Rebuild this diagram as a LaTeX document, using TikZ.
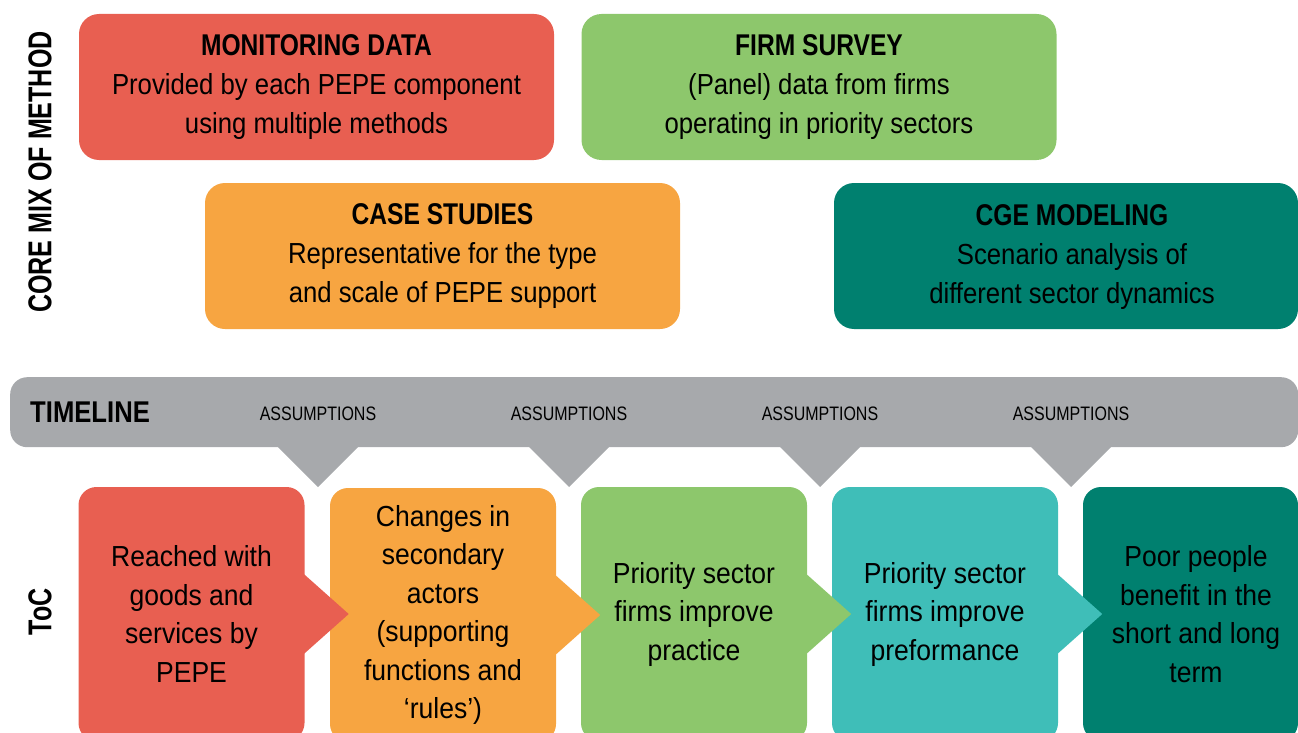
\documentclass[tikz,border=0pt]{standalone}
\usepackage{fontspec}
\setmainfont{Liberation Sans}[FakeStretch=0.82]
\newfontfamily\topfont{Liberation Sans}[FakeStretch=0.887]
\newfontfamily\tocfont{Liberation Sans}[FakeStretch=0.915]
\newfontfamily\sidefont{Liberation Sans}[FakeStretch=0.76]
\newfontfamily\tlfont{Liberation Sans}[FakeStretch=0.855]
\usetikzlibrary{calc}
\definecolor{cRed}{HTML}{E85F51}
\definecolor{cGreen}{HTML}{8DC76C}
\definecolor{cOrange}{HTML}{F7A541}
\definecolor{cDark}{HTML}{00806F}
\definecolor{cLight}{HTML}{3FBEB8}
\definecolor{cGray}{HTML}{A7A9AC}
\newcommand{\boxtitle}[1]{{\rmfamily\fontsize{30}{39}\selectfont\bfseries #1}}
\begin{document}
\begin{tikzpicture}[x=1pt,y=-1pt,
  mbox/.style={rounded corners=20pt, minimum width=475pt, minimum height=146pt, inner sep=0pt, align=center, font=\topfont\fontsize{29}{39}\selectfont},
  tocbox/.style={rounded corners=18pt, minimum width=226pt, minimum height=254pt, inner sep=0pt, align=center, font=\tocfont\fontsize{29}{38.5}\selectfont},
  asm/.style={font=\fontsize{19.5}{22}\selectfont},
  side/.style={rotate=90, font=\sidefont\fontsize{33}{36}\selectfont\bfseries}]
\useasboundingbox (0,0) rectangle (1298,733);
\clip (0,0) rectangle (1298,733);
% side labels
\node[side] (core) at (40,172) {CORE MIX OF METHOD};
\node[side] (toc) at (40,612) {ToC};
% method boxes
\node[mbox, fill=cRed] (mon) at (316.5,87) {\boxtitle{MONITORING DATA}\\Provided by each PEPE component\\using multiple methods};
\node[mbox, fill=cGreen] (firm) at (819,87) {\boxtitle{FIRM SURVEY}\\(Panel) data from firms\\operating in priority sectors};
\node[mbox, fill=cOrange] (case) at (442.5,256) {\boxtitle{CASE STUDIES}\\Representative for the type\\and scale of PEPE support};
\node[mbox, fill=cDark, minimum width=464pt] (cge) at (1066,256) {};
\node[align=center, font=\topfont\fontsize{29}{39}\selectfont] (cgetxt) at (1072,257) {\boxtitle{CGE MODELING}\\Scenario analysis of\\different sector dynamics};
% timeline
\node[fill=cGray, rounded corners=17pt, minimum width=1288pt, minimum height=70pt, inner sep=0pt, anchor=north west] (tl) at (10,377) {};
\node[anchor=west, inner sep=0pt, font=\tlfont\fontsize{30}{36}\selectfont\bfseries] (tltxt) at (30,412) {TIMELINE};
\foreach \n/\x in {a1/318, a2/569, a3/820, a4/1071}{
  \node[asm] (\n) at (\x,414) {ASSUMPTIONS};
  \fill[cGray] ($(\n)+(-41,32)$) -- ($(\n)+(41,32)$) -- ($(\n)+(0,73)$) -- cycle;
}
% ToC boxes
\node[tocbox, fill=cRed] (t1) at (191.5,614) {Reached with\\goods and\\services by\\PEPE};
\node[tocbox, fill=cOrange] (t2) at (443,615) {Changes in\\secondary\\actors\\(supporting\\functions and\\‘rules’)};
\node[tocbox, fill=cGreen] (t3) at (694,614) {Priority sector\\firms improve\\practice};
\node[tocbox, fill=cLight] (t4) at (945,614) {Priority sector\\firms improve\\preformance};
\node[tocbox, fill=cDark, minimum width=215pt] (t5) at (1190.5,614) {};
\node[align=center, font=\tocfont\fontsize{29}{38.5}\selectfont] (t5txt) at (1196,614) {Poor people\\benefit in the\\short and long\\term};
% arrows
\foreach \a/\c in {t1/cRed, t2/cOrange, t3/cGreen, t4/cLight}{
  \fill[\c] ($(\a.east)+(-2,-41)$) -- ($(\a.east)+(44,0)$) -- ($(\a.east)+(-2,41)$) -- cycle;
}
\end{tikzpicture}
\end{document}
